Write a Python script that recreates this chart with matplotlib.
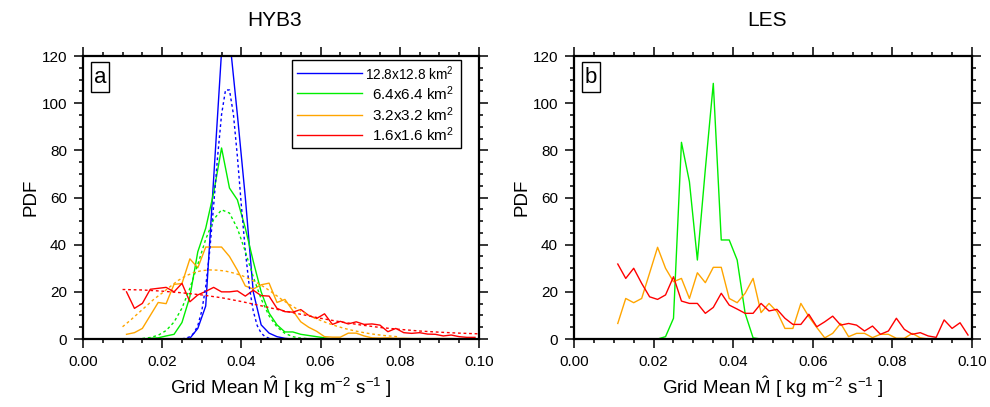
import numpy as np
import matplotlib
matplotlib.use('Agg')
import matplotlib.pyplot as plt
from matplotlib.patches import Rectangle
from matplotlib.ticker import MultipleLocator, FormatStrFormatter

plt.rcParams['font.family'] = ['Liberation Sans', 'DejaVu Sans']
plt.rcParams['mathtext.fontset'] = 'custom'
plt.rcParams['mathtext.rm'] = 'Liberation Sans'
plt.rcParams['mathtext.it'] = 'Liberation Sans:italic'

# bin centres of the histograms
bins = np.round(np.arange(0.011, 0.1, 0.002), 3)

labels = ['12.8x12.8 km$^2$', '6.4x6.4 km$^2$', '3.2x3.2 km$^2$', '1.6x1.6 km$^2$']
colors = ['#0000ff', '#00ee00', '#ffa500', '#ff0000']

# panel a (HYB3), histograms
hyb_blue = [0, 0, 0, 0, 0, 0, 0, 0, 0.3, 4.5, 14, 68, 122, 128, 95, 60, 20, 6, 2.5, 1,
            0.3, 0, 0, 0, 0, 0, 0, 0, 0, 0, 0, 0, 0, 0, 0, 0, 0, 0, 0, 0,
            0, 0, 0, 0, 0]
hyb_green = [0, 0, 0, 0.3, 0.5, 1.3, 2, 7, 18, 37, 47, 62, 81, 64, 59, 47, 33, 20, 11, 6,
             3, 3, 2, 1.5, 1, 0.5, 0, 0, 0, 0, 0, 0, 0, 0, 0, 0, 0, 0, 0, 0,
             0, 0, 0, 0, 0]
hyb_orange = [2, 2.7, 4.5, 10, 15.5, 15, 23.2, 23.5, 34, 30.2, 39, 39, 39, 35, 29.2, 22.5, 21.2, 23, 23.7, 15.5,
              16.8, 12, 7.3, 5, 3.3, 1, 0.8, 0.8, 2.5, 2.5, 1.3, 0.5, 0.4, 0.5, 0.3, 0.3, 0.2, 0.2, 0.2, 0.2,
              0.2, 0.2, 0.1, 0.1, 0.1]
hyb_red = [20, 13, 15.1, 21.1, 21.5, 21.9, 20, 23.6, 15.8, 18.7, 20.2, 21.9, 20, 20, 20.4, 18.2, 20.7, 18.4, 18.2, 13,
           11.6, 11.4, 12.5, 10, 8.7, 10.7, 6.2, 7.5, 6.4, 7.3, 6.2, 6.4, 5.9, 3.1, 4.5, 2.7, 2.4, 2.7, 2.1, 2,
           1.3, 1.7, 1, 0.7, 0.7]

# panel a, fitted curves (dotted)
fit_blue_x = [0.025, 0.026, 0.027, 0.028, 0.029, 0.030, 0.031, 0.032, 0.033, 0.034, 0.035, 0.036,
              0.037, 0.038, 0.039, 0.040, 0.041, 0.042, 0.043, 0.044, 0.045, 0.046, 0.047, 0.048]
fit_blue = [0.1, 0.35, 1.0, 2.5, 5.7, 11.9, 22.2, 37.3, 56.6, 77.3, 95.2, 105.6,
            105.6, 95.2, 77.3, 56.6, 37.3, 22.2, 11.9, 5.7, 2.5, 1.0, 0.35, 0.1]
fit_green_x = [0.015, 0.017, 0.019, 0.021, 0.023, 0.025, 0.027, 0.029, 0.031, 0.033, 0.035,
               0.037, 0.039, 0.041, 0.043, 0.045, 0.047, 0.049, 0.051, 0.053, 0.055, 0.057]
fit_green = [0.23, 0.64, 1.6, 3.6, 7.2, 13.1, 21.5, 31.7, 42.3, 50.7, 54.8,
             53.4, 46.9, 37.1, 26.4, 17.0, 9.8, 5.1, 2.4, 1.0, 0.39, 0.13]
fit_orange_x = [0.010, 0.012, 0.014, 0.016, 0.018, 0.020, 0.022, 0.024, 0.026, 0.028, 0.030, 0.032,
                0.034, 0.036, 0.038, 0.040, 0.042, 0.044, 0.046, 0.048, 0.050, 0.052, 0.054, 0.056,
                0.058, 0.060, 0.062, 0.064, 0.066, 0.068, 0.070, 0.072, 0.074, 0.076, 0.078, 0.080]
fit_orange = [5.2, 8, 11, 14, 17, 19.5, 22.2, 24.8, 26.8, 28.2, 29, 29.3,
              29.2, 28.8, 28, 27, 25.5, 23.8, 21.8, 19.5, 17, 14.8, 12.8, 11,
              9.3, 7.9, 6.6, 5.5, 4.5, 3.7, 3, 2.4, 1.9, 1.5, 1.2, 0.9]
fit_red_x = [0.010, 0.015, 0.020, 0.025, 0.030, 0.035, 0.040, 0.045, 0.050, 0.055,
             0.060, 0.065, 0.070, 0.075, 0.080, 0.085, 0.090, 0.095, 0.100]
fit_red = [21, 20.8, 20.3, 19.6, 18.7, 17.5, 15.9, 14.1, 12.2, 10.5,
           8.8, 7.3, 6.0, 4.9, 4.1, 3.4, 2.9, 2.5, 2.2]

# panel b (LES)
les_green = [0, 0, 0, 0, 0, 0, 1, 8.8, 83.4, 66.7, 33.5, 72, 108.4, 42, 42, 33.5, 10.9, 0.5, 0, 0,
             0, 0, 0, 0, 0, 0, 0, 0, 0, 0, 0, 0, 0, 0, 0, 0, 0, 0, 0, 0,
             0, 0, 0, 0, 0]
les_orange = [6.6, 17.2, 15.4, 17.2, 28, 38.9, 30, 24.3, 25.7, 17.2, 28.1, 23.9, 30.4, 30.4, 17.2, 15.4, 19.4, 25.7, 11.2, 15.1,
              11.6, 4.5, 4.5, 15.1, 9.5, 4.9, 0.5, 2.4, 6.6, 1, 2.4, 2.4, 0.6, 2, 2, 0.3, 0.3, 2.4, 0.5, 0,
              0, 0, 0, 0, 0]
les_red = [31.8, 25.7, 30, 23.6, 17.9, 16.8, 18.7, 26.4, 16.1, 15.1, 15.1, 10.9, 13.4, 19.4, 14.4, 12.7, 10.9, 10.9, 15.1, 11.9,
           12.6, 8.8, 6.2, 6.2, 10.5, 5.2, 7.3, 9.7, 5.9, 6.6, 5.9, 3.4, 5.5, 2, 3.4, 8.8, 4.1, 2, 2.7, 1.3,
           0.7, 8.1, 4.5, 6.9, 1.7]


def style_axes(ax, title, letter):
    ax.set_xlim(0, 0.1)
    ax.set_ylim(0, 120)
    ax.xaxis.set_major_locator(MultipleLocator(0.02))
    ax.xaxis.set_minor_locator(MultipleLocator(0.005))
    ax.xaxis.set_major_formatter(FormatStrFormatter('%.2f'))
    ax.yaxis.set_major_locator(MultipleLocator(20))
    ax.yaxis.set_minor_locator(MultipleLocator(5))
    ax.tick_params(which='both', direction='out', top=True, right=True, width=1.1, labelsize=11)
    ax.tick_params(which='major', length=6.5, pad=5)
    ax.tick_params(which='minor', length=3)
    for s in ax.spines.values():
        s.set_linewidth(1.6)
    ax.text(0.485, 1.124, title, transform=ax.transAxes, ha='center', va='center', fontsize=15)
    ax.text(0.5, -0.17, r'Grid Mean $\hat{\mathrm{M}}$ [ kg m$^{-2}$ s$^{-1}$ ]',
            transform=ax.transAxes, ha='center', va='center', fontsize=13.5)
    ax.text(-0.131, 0.502, 'PDF', transform=ax.transAxes, ha='center', va='center',
            rotation=90, fontsize=13.5)
    ax.add_patch(Rectangle((0.0194, 0.874), 0.047, 0.106, transform=ax.transAxes,
                           fill=False, ec='black', lw=1, zorder=5))
    ax.text(0.043, 0.925, letter, transform=ax.transAxes, ha='center', va='center', fontsize=16)


fig = plt.figure(figsize=(9.9, 4.07), dpi=100)
ax1 = fig.add_axes([0.0838, 0.167, 0.400, 0.6954])
ax2 = fig.add_axes([0.5798, 0.167, 0.402, 0.6954])

lw = 1.0
for vals, c in zip([hyb_blue, hyb_green, hyb_orange, hyb_red], colors):
    ax1.plot(bins, vals, color=c, lw=lw)
for fx, fv, c in zip([fit_blue_x, fit_green_x, fit_orange_x, fit_red_x],
                     [fit_blue, fit_green, fit_orange, fit_red], colors):
    ax1.plot(fx, fv, color=c, lw=lw, ls=(0, (2, 2)))

ax2.plot(bins, les_green, color=colors[1], lw=lw)
ax2.plot(bins, les_orange, color=colors[2], lw=lw)
ax2.plot(bins, les_red, color=colors[3], lw=lw)

style_axes(ax1, 'HYB3', 'a')
style_axes(ax2, 'LES', 'b')

# legend box drawn like the original
ax1.add_patch(Rectangle((0.528, 0.674), 0.427, 0.312, transform=ax1.transAxes,
                        fill=False, ec='black', lw=1, zorder=5))
rows = [0.939, 0.868, 0.792, 0.721]
sizes = [9.8, 11, 11, 11]
for y, lab, c, fs in zip(rows, labels, colors, sizes):
    ax1.plot([0.540, 0.704], [y, y], color=c, lw=lw, transform=ax1.transAxes)
    ax1.text(0.937, y, lab, transform=ax1.transAxes, ha='right', va='center', fontsize=fs)

plt.savefig('out.png', dpi=100)
